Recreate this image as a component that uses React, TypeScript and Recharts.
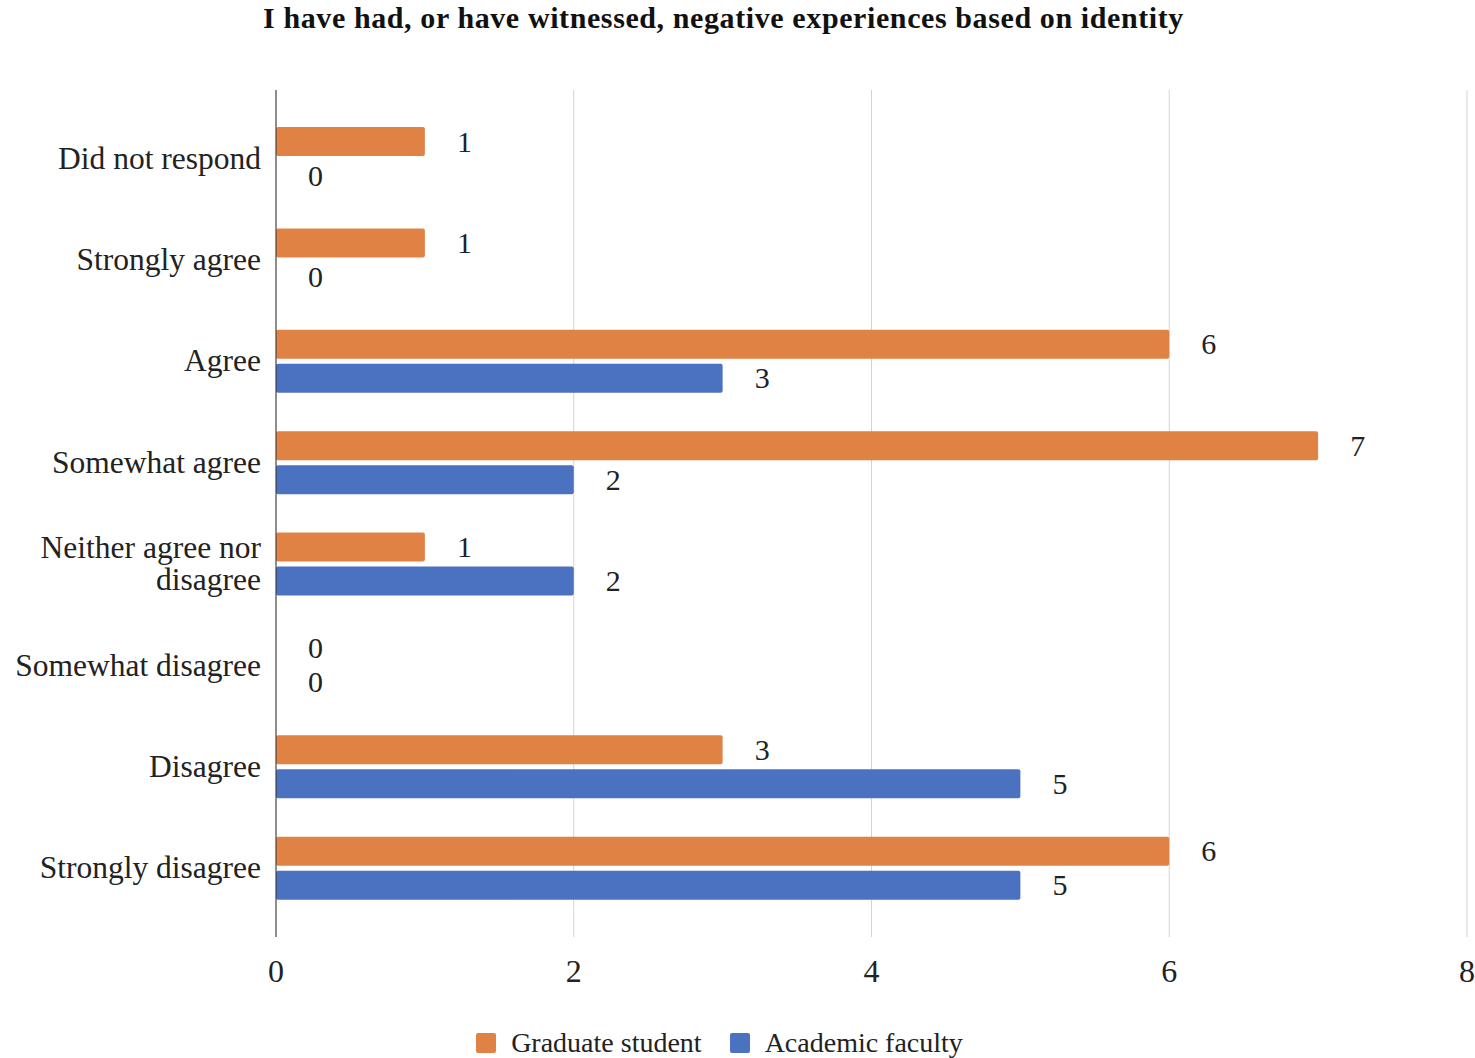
import React from "react";
import {
  BarChart,
  Bar,
  XAxis,
  YAxis,
  CartesianGrid,
  Legend,
  LabelList,
} from "recharts";

const categories = [
  "Did not respond",
  "Strongly agree",
  "Agree",
  "Somewhat agree",
  "Neither agree nor disagree",
  "Somewhat disagree",
  "Disagree",
  "Strongly disagree",
];

const graduateStudent = [1, 1, 6, 7, 1, 0, 3, 6];
const academicFaculty = [0, 0, 3, 2, 2, 0, 5, 5];

const xTicks = [0, 2, 4, 6, 8];

const TITLE = "I have had, or have witnessed, negative experiences based on identity";
const SERIF = "Liberation Serif, Tinos, Times New Roman, DejaVu Serif, serif";
const ORANGE = "#E08244";
const BLUE = "#4A72C0";

const data = categories.map((name, i) => ({
  name,
  grad: graduateStudent[i],
  faculty: academicFaculty[i],
}));

// split a label into lines no longer than maxLen characters
function wrapWords(text: string, maxLen: number): string[] {
  const lines: string[] = [];
  let cur = "";
  for (const w of text.split(" ")) {
    const next = cur ? cur + " " + w : w;
    if (next.length > maxLen && cur) {
      lines.push(cur);
      cur = w;
    } else {
      cur = next;
    }
  }
  if (cur) lines.push(cur);
  return lines;
}

function CategoryTick(props: any) {
  const { x, y, payload } = props;
  const lines = wrapWords(String(payload.value), 18);
  const lineHeight = 32;
  return (
    <text x={x} y={y} textAnchor="end" fontSize={31.5} fontFamily={SERIF} fill="#222">
      {lines.map((line, i) => (
        <tspan
          key={i}
          x={x}
          dy={i === 0 ? 10 - ((lines.length - 1) * lineHeight) / 2 : lineHeight}
        >
          {line}
        </tspan>
      ))}
    </text>
  );
}

// value label to the right of the bar end, also shown for zero-length bars
function ValueLabel(props: any) {
  const { x, y, width, height, value } = props;
  return (
    <text
      x={x + width + 32}
      y={y + height / 2}
      dy={10}
      fontSize={30}
      fontFamily={SERIF}
      fill="#222"
    >
      {value}
    </text>
  );
}

function LegendContent() {
  const items = [
    { label: "Graduate student", color: ORANGE },
    { label: "Academic faculty", color: BLUE },
  ];
  return (
    <div
      style={{
        display: "flex",
        justifyContent: "center",
        alignItems: "center",
        height: 30,
        paddingRight: 28,
        fontFamily: SERIF,
        fontSize: 28,
        color: "#222",
      }}
    >
      {items.map((it, i) => (
        <span
          key={it.label}
          style={{ display: "flex", alignItems: "center", marginLeft: i === 0 ? 0 : 28 }}
        >
          <span
            style={{
              display: "inline-block",
              width: 20,
              height: 20,
              borderRadius: 2,
              background: it.color,
              marginRight: 15,
            }}
          />
          {it.label}
        </span>
      ))}
    </div>
  );
}

export default function App() {
  return (
    <div
      style={{
        position: "absolute",
        left: 0,
        top: 0,
        width: 1475,
        height: 1058,
        background: "#fff",
      }}
    >
      <div
        style={{
          position: "absolute",
          left: 0,
          top: 1,
          width: 1447,
          textAlign: "center",
          fontFamily: SERIF,
          fontWeight: "bold",
          fontSize: 30,
          letterSpacing: 0.6,
          color: "#111",
        }}
      >
        {TITLE}
      </div>
      <BarChart
        width={1475}
        height={1058}
        data={data}
        layout="vertical"
        margin={{ top: 90, right: 8, bottom: 0, left: 0 }}
        barSize={29}
        barGap={5}
      >
        <CartesianGrid horizontal={false} stroke="#d3d3d3" />
        <XAxis
          type="number"
          domain={[0, 8]}
          ticks={xTicks}
          axisLine={false}
          tickLine={false}
          tickMargin={16}
          height={91}
          tick={{ fontSize: 32, fontFamily: SERIF, fill: "#222" }}
        />
        <YAxis
          type="category"
          dataKey="name"
          width={276}
          padding={{ top: 18, bottom: 18 }}
          axisLine={{ stroke: "#333" }}
          tickLine={false}
          tickMargin={9}
          tick={<CategoryTick />}
          interval={0}
        />
        <Legend verticalAlign="bottom" content={<LegendContent />} />
        <Bar
          dataKey="grad"
          name="Graduate student"
          fill={ORANGE}
          radius={2}
          minPointSize={0.01}
          isAnimationActive={false}
        >
          <LabelList dataKey="grad" content={<ValueLabel />} />
        </Bar>
        <Bar
          dataKey="faculty"
          name="Academic faculty"
          fill={BLUE}
          radius={2}
          minPointSize={0.01}
          isAnimationActive={false}
        >
          <LabelList dataKey="faculty" content={<ValueLabel />} />
        </Bar>
      </BarChart>
    </div>
  );
}
